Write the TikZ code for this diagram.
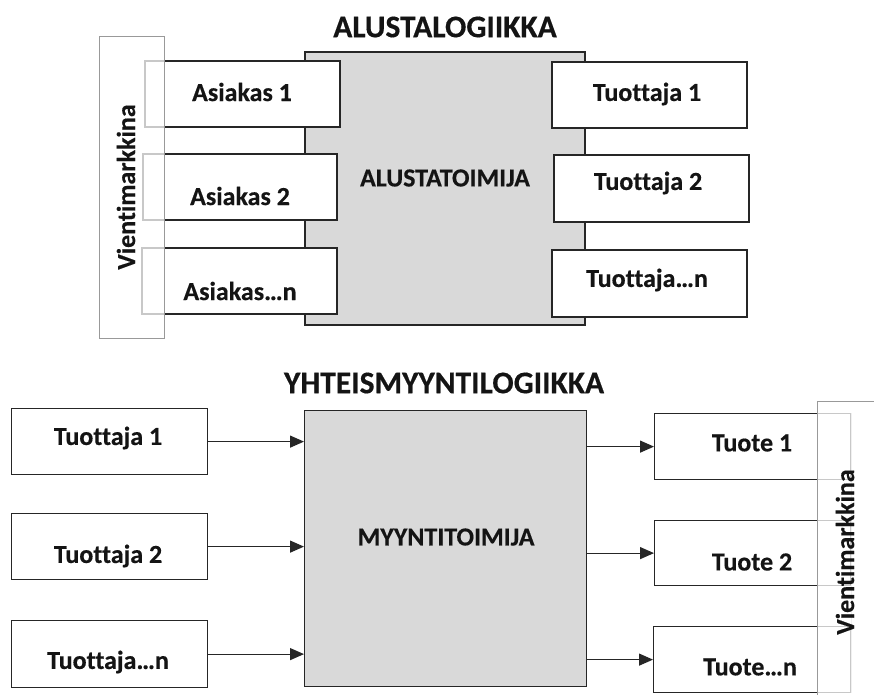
\documentclass[tikz,border=0pt]{standalone}
\usepackage{fontspec}
\setmainfont{Carlito}[Ligatures={NoCommon}, BoldFeatures={FakeBold=0.4}]
\usetikzlibrary{arrows.meta}
\definecolor{boxgray}{HTML}{D9D9D9}
\definecolor{linedark}{HTML}{262626}
\tikzset{
  x=1pt, y=-1pt,
  whitebox/.style={draw=linedark, line width=1.2pt, fill=white},
  graybox/.style={draw=linedark, line width=1.2pt, fill=boxgray},
  veil/.style={draw=black!40, line width=1pt, fill=white, fill opacity=0.75},
  faint/.style={draw=black!22, line width=1pt},
  lbl/.style={font=\fontsize{26}{29}\selectfont\bfseries, text=black!92, inner sep=0pt},
  ttl/.style={font=\fontsize{31.5}{34}\selectfont\bfseries, text=black!92, inner sep=0pt},
  arr/.style={draw=linedark, line width=1.2pt, -{Triangle[length=14pt,width=12pt]}}
}
\begin{document}
\begin{tikzpicture}
\clip (0,0) rectangle (874,694);
\fill[white] (0,0) rectangle (874,694);
% ---------- top: ALUSTALOGIIKKA ----------
\node[ttl] (t1) at (445,27) {ALUSTALOGIIKKA};
\draw[graybox] (305,52) rectangle (585,325);
\node[lbl] (alustxt) at (445,178) {ALUSTATOIMIJA};
% Asiakas boxes
\draw[whitebox] (145,61) rectangle (340,127);
\draw[whitebox] (143,154) rectangle (337,220);
\draw[whitebox] (142,248) rectangle (337,314);
\node[lbl] (a1) at (242,92) {Asiakas 1};
\node[lbl] (a2) at (240,196) {Asiakas 2};
\node[lbl] (an) at (240,291) {Asiakas\ldots n};
% Vientimarkkina (top)
\draw[veil] (99,36) rectangle (164,338);
\node[lbl, rotate=90] (v1) at (126,187) {Vientimarkkina};
% Tuottaja boxes (right)
\draw[whitebox] (552,62) rectangle (747,128);
\draw[whitebox] (554,155) rectangle (749,222);
\draw[whitebox] (552,250) rectangle (747,317);
\node[lbl] (tr1) at (647,94) {Tuottaja 1};
\node[lbl] (tr2) at (648,183) {Tuottaja 2};
\node[lbl] (trn) at (647,280) {Tuottaja\ldots n};
% ---------- bottom: YHTEISMYYNTILOGIIKKA ----------
\node[ttl] (t2) at (444,383) {YHTEISMYYNTILOGIIKKA};
\node[graybox, minimum width=282pt, minimum height=276pt, inner sep=0pt, anchor=north west] (myyn) at (304,410) {};
\node[lbl] (myyntxt) at (446,537) {MYYNTITOIMIJA};
% left producers
\node[whitebox, minimum width=196pt, minimum height=66pt, inner sep=0pt, anchor=north west] (p1) at (11,408) {};
\node[whitebox, minimum width=196pt, minimum height=66pt, inner sep=0pt, anchor=north west] (p2) at (11,513) {};
\node[whitebox, minimum width=196pt, minimum height=67pt, inner sep=0pt, anchor=north west] (pn) at (11,620) {};
\node[lbl] (p1t) at (108,438) {Tuottaja 1};
\node[lbl] (p2t) at (108,556) {Tuottaja 2};
\node[lbl] (pnt) at (108,662) {Tuottaja\ldots n};
% right products
\node[whitebox, minimum width=196pt, minimum height=66pt, inner sep=0pt, anchor=north west] (q1) at (654,413) {};
\node[whitebox, minimum width=196pt, minimum height=65pt, inner sep=0pt, anchor=north west] (q2) at (654,520) {};
\node[whitebox, minimum width=197pt, minimum height=66pt, inner sep=0pt, anchor=north west] (qn) at (653,626) {};
\node[lbl] (q1t) at (752,443) {Tuote 1};
\node[lbl] (q2t) at (752,562) {Tuote 2};
\node[lbl] (qnt) at (750,667) {Tuote\ldots n};
% arrows
\draw[arr] (p1.east) -- (myyn.west |- p1.east);
\draw[arr] (p2.east) -- (myyn.west |- p2.east);
\draw[arr] (pn.east) -- (myyn.west |- pn.east);
\draw[arr] (myyn.east |- q1.west) -- (q1.west);
\draw[arr] (myyn.east |- q2.west) -- (q2.west);
\draw[arr] (myyn.east |- qn.west) -- (qn.west);
% Vientimarkkina (bottom)
\draw[faint] (q1.north east) -- (qn.south east);
\draw[veil] (817,401) rectangle (890,710);
\node[lbl, rotate=90] (v2) at (845,552) {Vientimarkkina};
\end{tikzpicture}
\end{document}
